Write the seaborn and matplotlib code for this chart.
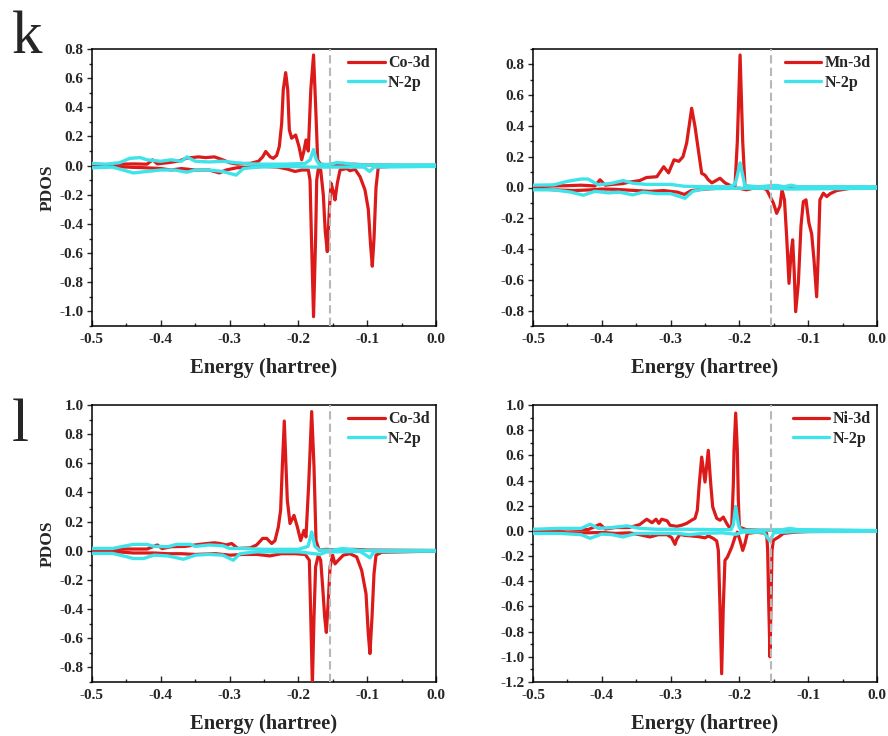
import numpy as np
import matplotlib
matplotlib.use("Agg")
import matplotlib.pyplot as plt
import seaborn as sns
from matplotlib.ticker import MultipleLocator, AutoMinorLocator, FormatStrFormatter

# ---------------- data ----------------
FERMI = -0.154

# Panel k (left): Co-3d / N-2p
K1_M_UP_E = [-0.500, -0.480, -0.460, -0.440, -0.420, -0.412, -0.405, -0.390, -0.375, -0.362, -0.345, -0.335, -0.322, -0.310, -0.300, -0.288, -0.275, -0.2703, -0.258, -0.2519, -0.2475, -0.241, -0.2365, -0.2316, -0.2278, -0.2243, -0.222, -0.2185, -0.2155, -0.2132, -0.2098, -0.204, -0.1991, -0.1952, -0.192, -0.189, -0.1856, -0.182, -0.178, -0.1749, -0.172, -0.168, -0.160, -0.150, -0.140, -0.120, -0.100, -0.050, 0.000]
K1_M_UP = [0.005, 0.005, 0.010, 0.012, 0.010, 0.040, 0.012, 0.020, 0.030, 0.052, 0.060, 0.055, 0.060, 0.040, 0.020, 0.010, 0.015, 0.015, 0.030, 0.060, 0.097, 0.060, 0.050, 0.070, 0.130, 0.290, 0.520, 0.638, 0.520, 0.245, 0.188, 0.210, 0.130, 0.040, 0.100, 0.176, 0.100, 0.520, 0.759, 0.405, 0.040, 0.010, 0.005, 0.010, 0.005, 0.010, 0.005, 0.002, 0.002]
K1_M_DN_E = [-0.500, -0.470, -0.440, -0.420, -0.400, -0.385, -0.370, -0.350, -0.330, -0.315, -0.305, -0.290, -0.270, -0.250, -0.230, -0.215, -0.205, -0.195, -0.1855, -0.1831, -0.181, -0.178, -0.175, -0.1734, -0.171, -0.1676, -0.1638, -0.161, -0.158, -0.155, -0.1526, -0.1492, -0.1468, -0.1434, -0.1395, -0.1298, -0.125, -0.1177, -0.1105, -0.1032, -0.0984, -0.095, -0.0926, -0.0901, -0.0872, -0.0839, -0.0669, 0.000]
K1_M_DN = [-0.002, -0.005, -0.012, -0.015, -0.020, -0.030, -0.020, -0.030, -0.030, -0.050, -0.030, -0.015, -0.010, -0.005, -0.010, -0.025, -0.040, -0.030, -0.030, -0.100, -0.500, -1.036, -0.500, -0.100, -0.020, -0.030, -0.200, -0.450, -0.590, -0.300, -0.120, -0.180, -0.235, -0.120, -0.030, -0.020, -0.035, -0.025, -0.075, -0.167, -0.300, -0.550, -0.690, -0.500, -0.150, -0.010, -0.005, -0.002]
K1_N_UP_E = [-0.500, -0.480, -0.460, -0.445, -0.430, -0.420, -0.400, -0.385, -0.370, -0.362, -0.350, -0.330, -0.310, -0.290, -0.270, -0.250, -0.220, -0.190, -0.183, -0.178, -0.174, -0.170, -0.155, -0.145, -0.135, -0.120, -0.100, 0.000]
K1_N_UP = [0.015, 0.010, 0.020, 0.050, 0.055, 0.040, 0.030, 0.040, 0.030, 0.060, 0.030, 0.025, 0.030, 0.020, 0.012, 0.010, 0.010, 0.015, 0.040, 0.110, 0.040, 0.010, 0.008, 0.020, 0.018, 0.008, 0.005, 0.005]
K1_N_DN_E = [-0.500, -0.470, -0.455, -0.440, -0.420, -0.400, -0.380, -0.362, -0.350, -0.330, -0.310, -0.2905, -0.280, -0.260, -0.220, -0.180, -0.160, -0.140, -0.105, -0.0965, -0.090, 0.000]
K1_N_DN = [-0.015, -0.010, -0.030, -0.050, -0.040, -0.030, -0.030, -0.045, -0.030, -0.030, -0.040, -0.065, -0.020, -0.010, -0.005, -0.010, -0.010, -0.010, -0.010, -0.040, -0.010, -0.005]

# Panel k (right): Mn-3d / N-2p
K2_M_UP_E = [-0.500, -0.470, -0.450, -0.430, -0.410, -0.4026, -0.395, -0.385, -0.370, -0.360, -0.345, -0.335, -0.320, -0.310, -0.303, -0.295, -0.288, -0.282, -0.2766, -0.2694, -0.2645, -0.2597, -0.2548, -0.250, -0.2452, -0.240, -0.2282, -0.2209, -0.212, -0.2064, -0.203, -0.199, -0.1952, -0.1919, -0.180, -0.150, 0.000]
K2_M_UP = [0.005, 0.010, 0.012, 0.015, 0.010, 0.050, 0.015, 0.020, 0.025, 0.035, 0.045, 0.065, 0.070, 0.135, 0.095, 0.180, 0.170, 0.200, 0.290, 0.515, 0.395, 0.244, 0.092, 0.080, 0.050, 0.030, 0.060, 0.030, 0.010, 0.010, 0.300, 0.861, 0.300, 0.010, 0.005, 0.002, 0.002]
K2_M_DN_E = [-0.500, -0.470, -0.440, -0.415, -0.400, -0.380, -0.350, -0.330, -0.310, -0.290, -0.280, -0.270, -0.250, -0.230, -0.200, -0.190, -0.180, -0.165, -0.1603, -0.1507, -0.1458, -0.141, -0.138, -0.1345, -0.1313, -0.1279, -0.125, -0.1226, -0.1204, -0.1182, -0.1143, -0.1105, -0.1071, -0.1032, -0.099, -0.095, -0.0916, -0.0877, -0.0853, -0.083, -0.078, -0.0731, -0.068, -0.0586, -0.039, 0.000]
K2_M_DN = [-0.005, -0.015, -0.020, -0.015, -0.010, -0.012, -0.020, -0.025, -0.020, -0.030, -0.045, -0.020, -0.010, -0.005, -0.005, -0.015, -0.005, -0.005, -0.015, -0.100, -0.168, -0.120, -0.015, -0.080, -0.320, -0.623, -0.430, -0.340, -0.540, -0.807, -0.620, -0.250, -0.092, -0.080, -0.230, -0.300, -0.470, -0.710, -0.430, -0.080, -0.037, -0.059, -0.040, -0.020, -0.005, -0.002]
K2_N_UP_E = [-0.500, -0.470, -0.450, -0.430, -0.420, -0.405, -0.385, -0.369, -0.355, -0.335, -0.300, -0.280, -0.250, -0.215, -0.2064, -0.203, -0.199, -0.1952, -0.192, -0.170, -0.155, -0.145, -0.135, -0.125, -0.115, 0.000]
K2_N_UP = [0.015, 0.017, 0.040, 0.055, 0.055, 0.017, 0.028, 0.045, 0.028, 0.020, 0.020, 0.008, 0.005, 0.005, 0.020, 0.080, 0.160, 0.080, 0.010, 0.005, 0.012, 0.013, 0.005, 0.015, 0.005, 0.005]
K2_N_DN_E = [-0.500, -0.470, -0.445, -0.427, -0.410, -0.390, -0.375, -0.355, -0.340, -0.320, -0.300, -0.279, -0.268, -0.250, -0.200, -0.150, -0.130, 0.000]
K2_N_DN = [-0.015, -0.015, -0.030, -0.050, -0.025, -0.035, -0.030, -0.048, -0.030, -0.040, -0.040, -0.070, -0.025, -0.008, -0.005, -0.005, -0.010, -0.005]

# Panel l (left): Co-3d / N-2p
L1_M_UP_E = [-0.500, -0.470, -0.450, -0.420, -0.405, -0.398, -0.385, -0.365, -0.350, -0.333, -0.322, -0.314, -0.305, -0.297, -0.288, -0.270, -0.2607, -0.2519, -0.2461, -0.2388, -0.234, -0.2292, -0.2258, -0.2234, -0.2205, -0.218, -0.2161, -0.2122, -0.2064, -0.2015, -0.1967, -0.1919, -0.189, -0.185, -0.1807, -0.1773, -0.1744, -0.170, -0.160, -0.140, -0.120, -0.100, 0.000]
L1_M_UP = [0.005, 0.008, 0.012, 0.012, 0.040, 0.015, 0.028, 0.030, 0.040, 0.050, 0.055, 0.050, 0.040, 0.050, 0.016, 0.020, 0.040, 0.085, 0.085, 0.050, 0.070, 0.163, 0.280, 0.575, 0.890, 0.575, 0.346, 0.187, 0.243, 0.163, 0.070, 0.140, 0.095, 0.460, 0.955, 0.575, 0.070, 0.005, 0.010, 0.005, 0.010, 0.005, 0.002]
L1_M_DN_E = [-0.500, -0.460, -0.440, -0.410, -0.390, -0.370, -0.350, -0.320, -0.2994, -0.280, -0.260, -0.2413, -0.225, -0.205, -0.190, -0.1841, -0.182, -0.1797, -0.1773, -0.175, -0.171, -0.1676, -0.1647, -0.1618, -0.1594, -0.1565, -0.154, -0.1502, -0.1468, -0.142, -0.1347, -0.125, -0.1153, -0.108, -0.1017, -0.0984, -0.096, -0.093, -0.0901, -0.0872, -0.0789, 0.000]
L1_M_DN = [-0.005, -0.008, -0.015, -0.015, -0.020, -0.020, -0.025, -0.020, -0.030, -0.025, -0.025, -0.035, -0.020, -0.020, -0.025, -0.065, -0.454, -0.920, -0.450, -0.110, -0.030, -0.065, -0.250, -0.454, -0.560, -0.340, -0.110, -0.030, -0.090, -0.065, -0.030, -0.020, -0.042, -0.135, -0.295, -0.570, -0.705, -0.454, -0.157, -0.030, -0.010, -0.002]
L1_N_UP_E = [-0.500, -0.470, -0.450, -0.440, -0.420, -0.410, -0.390, -0.377, -0.357, -0.350, -0.330, -0.310, -0.300, -0.280, -0.250, -0.200, -0.186, -0.1807, -0.176, -0.170, -0.150, -0.135, -0.125, -0.110, 0.000]
L1_N_UP = [0.016, 0.016, 0.035, 0.044, 0.044, 0.030, 0.028, 0.044, 0.044, 0.030, 0.040, 0.035, 0.016, 0.016, 0.010, 0.010, 0.030, 0.129, 0.030, 0.005, 0.005, 0.016, 0.010, 0.002, 0.002]
L1_N_DN_E = [-0.500, -0.470, -0.450, -0.440, -0.425, -0.410, -0.390, -0.367, -0.350, -0.330, -0.310, -0.2946, -0.285, -0.260, -0.200, -0.1686, -0.160, -0.110, -0.096, -0.090, 0.000]
L1_N_DN = [-0.018, -0.018, -0.040, -0.053, -0.053, -0.030, -0.035, -0.058, -0.030, -0.025, -0.030, -0.065, -0.020, -0.007, -0.007, -0.025, -0.008, -0.005, -0.048, -0.005, -0.002]

# Panel l (right): Ni-3d / N-2p
L2_M_UP_E = [-0.500, -0.470, -0.450, -0.420, -0.4026, -0.395, -0.380, -0.360, -0.345, -0.3347, -0.327, -0.3212, -0.317, -0.313, -0.305, -0.3009, -0.291, -0.284, -0.2766, -0.2694, -0.2645, -0.2612, -0.2583, -0.2548, -0.2500, -0.2452, -0.2417, -0.2388, -0.2330, -0.2282, -0.2234, -0.2185, -0.2137, -0.2112, -0.2088, -0.2078, -0.2054, -0.2030, -0.2015, -0.2000, -0.190, -0.170, -0.150, 0.000]
L2_M_UP = [0.005, 0.010, 0.015, 0.010, 0.053, 0.015, 0.027, 0.027, 0.050, 0.093, 0.065, 0.093, 0.060, 0.093, 0.080, 0.045, 0.036, 0.045, 0.060, 0.085, 0.100, 0.163, 0.375, 0.586, 0.388, 0.640, 0.375, 0.190, 0.100, 0.085, 0.110, 0.060, 0.020, 0.030, 0.375, 0.640, 0.936, 0.640, 0.240, 0.030, 0.010, 0.005, 0.005, 0.002]
L2_M_DN_E = [-0.500, -0.470, -0.450, -0.420, -0.400, -0.380, -0.360, -0.345, -0.330, -0.318, -0.305, -0.2985, -0.2936, -0.2912, -0.2863, -0.280, -0.270, -0.260, -0.250, -0.245, -0.2379, -0.2330, -0.2306, -0.2282, -0.2258, -0.2234, -0.221, -0.2176, -0.2112, -0.2064, -0.2030, -0.1991, -0.1952, -0.1919, -0.1885, -0.175, -0.1604, -0.1589, -0.1575, -0.1555, -0.1540, -0.1526, -0.1507, -0.1434, -0.1361, -0.120, -0.100, 0.000]
L2_M_DN = [-0.005, -0.010, -0.015, -0.015, -0.012, -0.020, -0.015, -0.030, -0.048, -0.030, -0.030, -0.053, -0.107, -0.067, -0.027, -0.035, -0.040, -0.045, -0.055, -0.040, -0.060, -0.080, -0.155, -0.600, -1.134, -0.600, -0.234, -0.210, -0.130, -0.050, -0.010, -0.075, -0.155, -0.100, -0.020, -0.010, -0.020, -0.155, -0.550, -1.000, -0.550, -0.155, -0.075, -0.050, -0.020, -0.010, -0.005, -0.002]
L2_N_UP_E = [-0.500, -0.460, -0.430, -0.417, -0.405, -0.385, -0.3638, -0.345, -0.320, -0.280, -0.230, -0.212, -0.2088, -0.2054, -0.2015, -0.198, -0.170, -0.140, -0.1265, -0.115, 0.000]
L2_N_UP = [0.013, 0.020, 0.020, 0.053, 0.020, 0.027, 0.040, 0.020, 0.013, 0.013, 0.010, 0.010, 0.050, 0.195, 0.050, 0.005, 0.005, 0.008, 0.020, 0.010, 0.003]
L2_N_DN_E = [-0.500, -0.460, -0.430, -0.417, -0.400, -0.385, -0.369, -0.350, -0.320, -0.290, -0.272, -0.255, -0.225, -0.205, -0.195, -0.165, -0.1555, -0.150, -0.120, 0.000]
L2_N_DN = [-0.020, -0.020, -0.030, -0.059, -0.025, -0.030, -0.048, -0.020, -0.020, -0.020, -0.030, -0.020, -0.015, -0.027, -0.010, -0.010, -0.080, -0.015, -0.005, -0.003]

METALS = ["Co-3d", "Mn-3d", "Co-3d", "Ni-3d"]
YLIMS = [(-1.1, 0.8), (-0.9, 0.9), (-0.9, 1.0), (-1.2, 1.0)]
X_TICKS = [-0.5, -0.4, -0.3, -0.2, -0.1, 0.0]

# ---------------- style ----------------
sns.set_theme(style="ticks")
plt.rcParams["font.family"] = ["Liberation Serif", "DejaVu Serif"]
plt.rcParams["font.weight"] = "bold"
plt.rcParams["axes.labelweight"] = "bold"
plt.rcParams["axes.unicode_minus"] = False

RED = "#dc1a1a"
CYAN = "#3fe3ea"

fig = plt.figure(figsize=(8.88, 7.36), dpi=100)
W, H = 888.0, 736.0
rects = [(92, 49, 436, 326), (533, 49, 877, 326), (92, 405, 436, 682), (533, 405, 877, 682)]

panels = [
    (K1_M_UP_E, K1_M_UP, K1_M_DN_E, K1_M_DN, K1_N_UP_E, K1_N_UP, K1_N_DN_E, K1_N_DN),
    (K2_M_UP_E, K2_M_UP, K2_M_DN_E, K2_M_DN, K2_N_UP_E, K2_N_UP, K2_N_DN_E, K2_N_DN),
    (L1_M_UP_E, L1_M_UP, L1_M_DN_E, L1_M_DN, L1_N_UP_E, L1_N_UP, L1_N_DN_E, L1_N_DN),
    (L2_M_UP_E, L2_M_UP, L2_M_DN_E, L2_M_DN, L2_N_UP_E, L2_N_UP, L2_N_DN_E, L2_N_DN),
]

for i, (rect, data) in enumerate(zip(rects, panels)):
    l, t, r, b = rect
    ax = fig.add_axes([l / W, 1 - b / H, (r - l) / W, (b - t) / H])
    mue, mu, mde, md, nue, nu, nde, nd = data
    sns.lineplot(x=mue, y=mu, ax=ax, color=RED, linewidth=2.3, sort=False, estimator=None, zorder=3)
    sns.lineplot(x=mde, y=md, ax=ax, color=RED, linewidth=2.3, sort=False, estimator=None, zorder=3)
    sns.lineplot(x=nue, y=nu, ax=ax, color=CYAN, linewidth=2.4, sort=False, estimator=None, zorder=4)
    sns.lineplot(x=nde, y=nd, ax=ax, color=CYAN, linewidth=2.4, sort=False, estimator=None, zorder=4)
    ax.axvline(FERMI, color="#b8b8b8", linewidth=1.5, linestyle=(0, (4, 2)), zorder=5)

    ax.set_xlim(-0.5, 0.0)
    ax.set_ylim(*YLIMS[i])
    ax.set_xticks(X_TICKS)
    ax.xaxis.set_major_formatter(FormatStrFormatter("%.1f"))
    ax.yaxis.set_major_locator(MultipleLocator(0.2))
    ax.yaxis.set_major_formatter(FormatStrFormatter("%.1f"))
    ax.xaxis.set_minor_locator(AutoMinorLocator(2))
    ax.yaxis.set_minor_locator(AutoMinorLocator(2))
    ax.tick_params(axis="x", which="major", direction="in", length=4, width=1.0, pad=5, labelsize=11)
    ax.tick_params(axis="x", which="minor", direction="in", length=2.5, width=1.0)
    ax.tick_params(axis="y", which="major", direction="out", length=3.5, width=1.0, pad=2.5, labelsize=11)
    ax.tick_params(axis="y", which="minor", direction="out", length=2, width=1.0)
    for sp in ax.spines.values():
        sp.set_visible(True)
        sp.set_linewidth(1.1)
        sp.set_color("black")

    ax.set_xlabel("Energy (hartree)", fontsize=14.8, fontweight="bold")
    ax.xaxis.set_label_coords(0.5, -0.115)
    if i in (0, 2):
        ax.set_ylabel("PDOS", fontsize=12.5, fontweight="bold")
        ax.yaxis.set_label_coords(-0.105, 0.5)
    else:
        ax.set_ylabel("")

    handles = [ax.lines[0], ax.lines[2]]
    leg = ax.legend(handles, [METALS[i], "N-2p"], loc="upper right", bbox_to_anchor=(1.0, 1.0),
                    frameon=False, fontsize=11.5, handlelength=2.3, handletextpad=0.2,
                    labelspacing=0.2, borderaxespad=0.1, borderpad=0.3)
    for txt in leg.get_texts():
        txt.set_fontweight("bold")

fig.text(12 / W, 1 - 53 / H, "k", fontsize=44, fontweight="normal", ha="left", va="baseline")
fig.text(12 / W, 1 - 441 / H, "l", fontsize=44, fontweight="normal", ha="left", va="baseline")

fig.savefig("out.png", dpi=100)
